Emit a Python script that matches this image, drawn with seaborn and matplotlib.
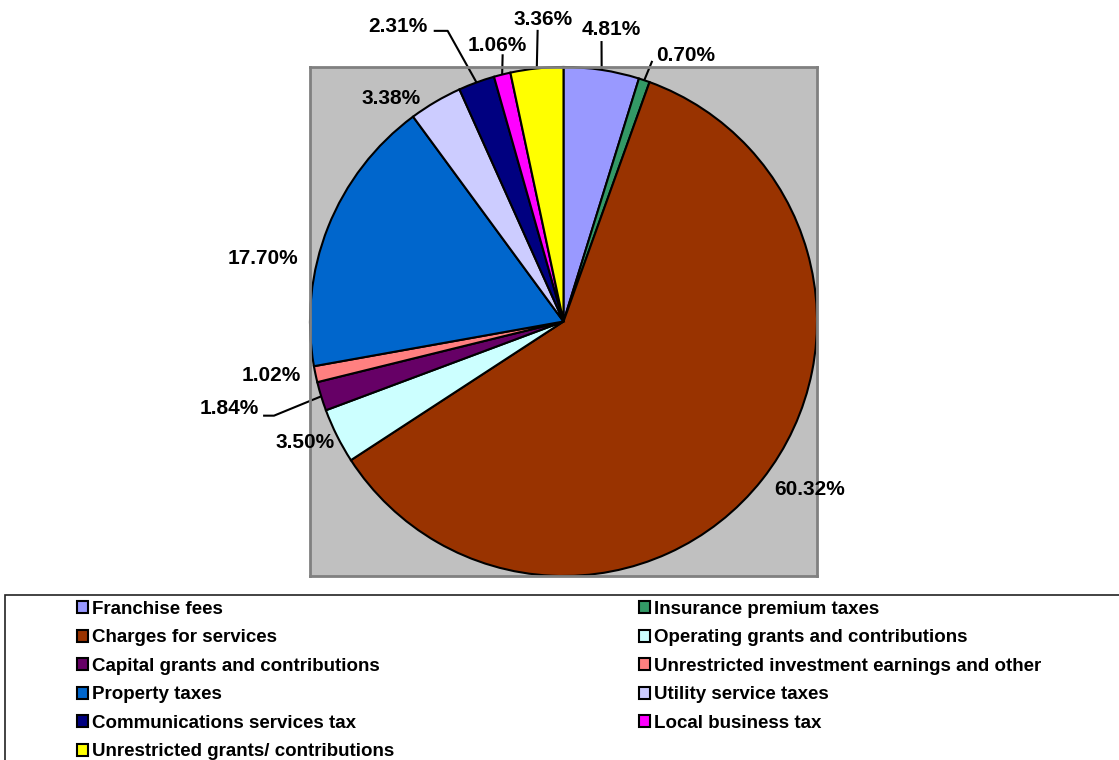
import matplotlib
matplotlib.use("Agg")
import matplotlib.pyplot as plt
import seaborn as sns
import numpy as np
from matplotlib.patches import Patch, Rectangle

sns.set_style("white")
plt.rcParams['font.family'] = ['Liberation Sans', 'DejaVu Sans']
plt.rcParams['text.color'] = 'black'

categories = ["Franchise fees", "Insurance premium taxes", "Charges for services",
              "Operating grants and contributions", "Capital grants and contributions",
              "Unrestricted investment earnings and other", "Property taxes",
              "Utility service taxes", "Communications services tax", "Local business tax",
              "Unrestricted grants/ contributions"]
values = [4.81, 0.70, 60.32, 3.50, 1.84, 1.02, 17.70, 3.38, 2.31, 1.06, 3.36]
colors = ["#9999FF", "#339966", "#993300", "#CCFFFF", "#660066", "#FF8080",
          "#0066CC", "#CCCCFF", "#000080", "#FF00FF", "#FFFF00"]

# label placement (layout, in pie-radius units)
label_pos = [(0.189, 1.146), (0.480, 1.047), (0.969, -0.661), (-1.020, -0.476),
             (-1.319, -0.343), (-1.154, -0.213), (-1.187, 0.248), (-0.681, 0.878),
             (-0.654, 1.161), (-0.260, 1.085), (-0.079, 1.185)]
# leader line path points (after wedge edge point), None = no leader
leaders = [[(0.150, 1.102)], [(0.350, 1.024)], None, None,
           [(-1.142, -0.370), (-1.185, -0.370)], None, None, None,
           [(-0.457, 1.142), (-0.512, 1.142)], [(-0.240, 1.050)], [(-0.102, 1.146)]]

W, H = 1119, 760
fig = plt.figure(figsize=(W / 100, H / 100), dpi=100)
ax = fig.add_axes([310 / W, (H - 576) / H, 507 / W, 509 / H])
ax.set_facecolor("#C0C0C0")
for s in ax.spines.values():
    s.set_edgecolor("#808080")
    s.set_linewidth(2)

wedges, _ = ax.pie(values, colors=colors, startangle=90, counterclock=False,
                   radius=1.0, center=(0, 0), frame=True,
                   wedgeprops=dict(edgecolor="black", linewidth=1.5))
ax.set_xlim(-1, 1)
ax.set_ylim(-1, 1)
ax.set_xticks([])
ax.set_yticks([])
ax.set_aspect("auto")

for w, v, pos, ld in zip(wedges, values, label_pos, leaders):
    ax.text(pos[0], pos[1], f"{v:.2f}%", ha="center", va="center",
            fontsize=15, fontweight="bold", color="black", clip_on=False)
    if ld is not None:
        mid = np.deg2rad((w.theta1 + w.theta2) / 2)
        pts = [(np.cos(mid), np.sin(mid))] + ld
        xs, ys = zip(*pts)
        ax.plot(xs, ys, color="black", lw=1.5, clip_on=False, solid_capstyle="butt")

# legend box
fig.patches.append(Rectangle((5 / W, -0.05), 1.2, (H - 595) / H + 0.05,
                             transform=fig.transFigure, facecolor="white",
                             edgecolor="#222222", linewidth=1.2, zorder=0))

handles = [Patch(facecolor=c, edgecolor="black", linewidth=1.5) for c in colors]
col1 = [0, 2, 4, 6, 8, 10]
col2 = [1, 3, 5, 7, 9]
common = dict(frameon=False, handlelength=0.6, handleheight=0.6, handletextpad=0.18,
              labelspacing=0.61, borderpad=0, borderaxespad=0, labelcolor="black",
              prop=dict(size=13.5, weight="bold"))
lg1 = fig.legend([handles[i] for i in col1], [categories[i] for i in col1],
                 loc="upper left", bbox_to_anchor=(77 / W, (H - 601) / H), **common)
lg2 = fig.legend([handles[i] for i in col2], [categories[i] for i in col2],
                 loc="upper left", bbox_to_anchor=(639 / W, (H - 601) / H), **common)

fig.savefig("out.png", dpi=100)
